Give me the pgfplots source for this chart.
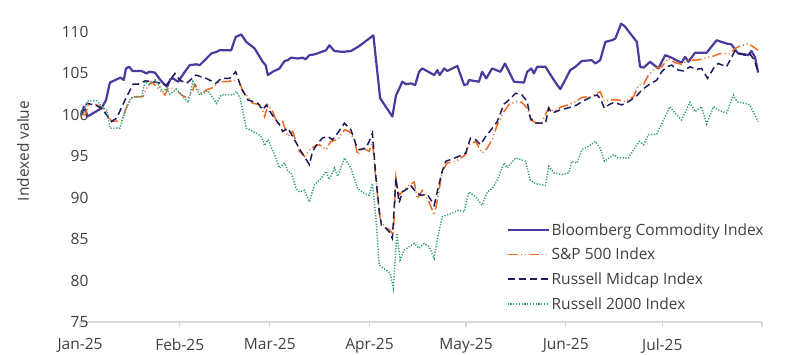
\documentclass[border=0pt]{standalone}
\usepackage{pgfplots}
\pgfplotsset{compat=1.18}
\usepackage{fontspec}
\setmainfont{Open Sans}
\definecolor{bcom}{RGB}{75,58,157}
\definecolor{spx}{RGB}{242,106,33}
\definecolor{mid}{RGB}{30,27,94}
\definecolor{rut}{RGB}{47,160,119}
\definecolor{axgray}{RGB}{217,217,217}
\definecolor{txt}{RGB}{64,64,64}
\begin{document}
\begin{tikzpicture}
\begin{axis}[
  name=ax,
  scale only axis,
  width=682pt, height=306.7pt,
  xmin=0, xmax=212, ymin=75, ymax=112,
  axis x line*=bottom, axis y line*=left,
  y axis line style={draw=none},
  x axis line style={draw=axgray, line width=1.3pt},
  xtick={0,31,59,90,120,151,181,212},
  xticklabels={Jan-25,Feb-25,Mar-25,Apr-25,May-25,Jun-25,Jul-25,{}},
  ytick={75,80,...,110},
  tick align=outside,
  major tick length=5pt,
  xtick style={draw=axgray, line width=1.1pt},
  ytick style={draw=none},
  /pgf/number format/assume math mode=true,
  tick label style={font=\fontsize{15.5}{18}\selectfont, text=txt},
  yticklabel style={xshift=17pt},
  xticklabel style={yshift=-8pt},
  ylabel={Indexed value},
  ylabel style={at={(axis description cs:-0.0836,0.558)}, anchor=center, font=\fontsize{15.5}{18}\selectfont, text=txt},
  clip=false,
  legend style={draw=none, fill=none, at={(axis description cs:0.625,0.33)}, anchor=north west,
    font=\fontsize{15.5}{18}\selectfont, cells={anchor=west, text height=12pt, text depth=4pt, text=txt}, row sep=7.2pt, inner sep=0pt},
  legend image code/.code={\draw[#1] (0pt,0pt) -- (41pt,0pt);},
]
\coordinate (bl) at (rel axis cs:0,0);
\coordinate (tr) at (rel axis cs:1,1);
\addplot[bcom, line width=2.2pt, line join=round] coordinates {
(0.5,100.0)(1.2,101.0)(2.3,99.8)(6.7,100.8)(8.1,101.8)(9.3,103.9)(12.6,104.5)(13.6,104.2)(14.3,105.6)(15.3,105.8)(16.3,105.3)(19.1,105.3)(20.7,105.0)(21.5,105.2)(23.3,105.1)(24.8,104.3)(26.4,103.6)(27.1,103.4)(28.1,104.3)(28.9,104.4)(30.5,104.0)(32.6,105.2)(34.1,106.0)(36.2,106.1)(37.2,106.0)(38.8,106.6)(40.8,107.4)(42.4,107.6)(43.4,107.8)(47.0,107.8)(48.4,109.4)(50.1,109.7)(51.7,108.8)(54.3,108.0)(56.8,106.4)(57.7,106.0)(58.4,104.8)(59.9,105.2)(62.0,105.6)(63.6,106.5)(64.6,106.6)(65.6,106.9)(67.7,106.8)(69.2,106.9)(70.1,106.7)(71.3,107.2)(72.9,107.3)(74.4,107.5)(76.5,107.8)(77.5,108.4)(79.1,107.7)(81.6,107.6)(84.2,107.7)(86.8,108.3)(91.2,109.6)(93.3,102.0)(97.1,99.8)(98.2,102.3)(100.2,104.0)(101.3,103.7)(102.8,103.8)(104.2,103.6)(105.4,105.2)(106.4,105.6)(110.1,104.8)(111.1,105.4)(111.8,104.8)(113.2,105.6)(114.2,105.3)(117.3,105.9)(119.4,103.6)(120.4,103.7)(120.9,104.2)(124.0,104.0)(125.0,105.2)(126.3,104.4)(128.1,105.6)(130.7,105.2)(132.1,106.2)(134.9,104.0)(138.0,103.9)(139.0,105.2)(140.3,105.6)(141.1,105.0)(142.1,105.8)(144.7,105.8)(147.3,104.2)(149.3,103.1)(152.4,105.4)(154.0,105.8)(156.0,106.5)(159.1,106.6)(160.2,106.2)(161.7,106.6)(163.3,108.8)(165.3,109.0)(166.4,109.2)(168.2,111.0)(169.3,110.7)(173.1,108.8)(174.1,105.8)(175.2,105.7)(177.2,106.4)(179.8,105.6)(181.9,107.2)(183.9,106.9)(185.8,106.5)(187.0,106.3)(188.1,107.0)(189.1,106.4)(191.2,107.5)(194.8,107.5)(197.9,109.0)(201.0,108.6)(202.5,108.5)(203.6,107.9)(204.6,107.4)(206.7,107.3)(207.7,107.2)(208.7,107.7)(209.8,107.0)(210.8,105.1)
};
\addlegendentry{Bloomberg Commodity Index}
\addplot[spx, line width=1.5pt, dash pattern=on 10pt off 3pt on 1pt off 3pt on 1pt off 3pt] coordinates {
(0.5,100.1)(1.6,100.0)(2.6,101.2)(4.7,101.3)(6.2,101.0)(7.8,100.6)(9.8,99.2)(12.9,99.3)(14.5,101.0)(16.0,102.0)(17.6,102.2)(19.6,102.2)(20.7,103.2)(22.2,104.0)(24.3,103.2)(26.4,102.4)(27.4,103.2)(29.5,103.2)(31.5,102.4)(33.6,102.0)(35.1,103.0)(35.7,103.7)(37.7,102.6)(39.3,103.0)(41.3,103.3)(43.4,104.0)(46.0,104.0)(47.5,104.2)(49.6,104.0)(50.6,102.8)(52.2,102.2)(53.7,101.4)(56.3,101.2)(57.4,99.8)(58.4,101.2)(59.9,100.4)(61.5,98.8)(63.0,99.2)(64.6,97.4)(66.1,98.0)(68.2,95.6)(69.8,95.0)(71.8,96.0)(74.4,96.4)(76.5,95.8)(78.0,96.8)(80.1,97.0)(82.2,98.2)(83.7,98.0)(85.3,97.0)(86.3,95.2)(87.8,96.0)(89.9,95.6)(90.9,96.8)(92.0,92.1)(93.3,87.5)(94.6,86.5)(96.4,86.1)(97.4,85.5)(98.2,92.5)(99.2,90.3)(101.8,91.4)(103.9,91.9)(104.9,89.9)(106.4,90.9)(108.5,89.5)(110.1,87.9)(111.1,89.7)(112.6,93.2)(114.2,94.2)(116.8,94.4)(119.9,95.2)(120.9,96.4)(123.0,96.8)(125.0,95.4)(126.6,96.0)(128.1,97.0)(129.7,98.8)(131.8,100.4)(133.3,101.2)(135.4,101.6)(137.4,101.5)(139.0,100.8)(140.0,99.4)(142.1,99.0)(143.6,99.1)(145.7,100.9)(147.3,100.4)(149.8,101.0)(151.9,101.2)(154.0,101.6)(156.0,102.1)(158.6,102.2)(161.7,102.8)(163.0,101.6)(164.8,101.8)(167.4,101.8)(169.5,101.6)(172.1,102.2)(173.6,103.6)(175.2,103.7)(176.7,104.8)(178.8,105.6)(180.8,105.8)(182.9,106.8)(185.0,106.3)(187.0,106.1)(189.1,106.6)(191.7,106.6)(193.8,106.8)(196.9,107.1)(198.9,107.4)(202.0,107.4)(203.6,108.0)(205.1,108.3)(207.7,108.6)(209.3,108.2)(210.8,107.8)
};
\addlegendentry{S\&P 500 Index}
\addplot[mid, line width=1.5pt, dash pattern=on 7pt off 4pt] coordinates {
(0.5,100.0)(2.1,101.4)(5.2,101.1)(6.7,100.8)(9.8,99.2)(11.4,99.6)(14.0,101.8)(16.5,103.7)(18.1,103.7)(20.2,104.1)(22.7,104.0)(25.3,103.8)(26.9,103.6)(29.5,105.0)(31.0,104.2)(33.1,103.8)(36.0,104.8)(39.3,104.4)(42.2,103.8)(43.9,104.4)(46.5,104.4)(48.4,105.2)(50.1,103.3)(52.2,101.8)(55.3,101.4)(56.8,100.6)(57.9,101.2)(59.4,100.2)(62.0,98.8)(63.0,98.0)(64.6,98.4)(66.1,97.4)(68.7,95.6)(71.3,94.0)(72.3,95.6)(73.9,96.6)(75.4,97.2)(77.0,97.4)(78.5,97.0)(80.1,97.8)(82.2,99.0)(84.2,98.2)(85.8,96.4)(86.8,95.8)(88.9,96.0)(89.9,96.8)(90.9,97.8)(92.0,92.4)(93.0,88.4)(93.7,86.7)(95.1,86.3)(96.1,85.9)(97.1,85.1)(98.2,92.4)(99.2,89.4)(100.2,90.7)(101.8,91.1)(102.8,91.5)(104.4,90.7)(105.9,90.3)(108.0,90.4)(110.1,89.1)(111.4,91.3)(112.6,93.2)(113.7,94.4)(115.2,94.6)(117.8,95.0)(119.9,95.4)(121.4,97.2)(123.0,97.0)(124.5,96.4)(126.1,97.4)(127.6,98.1)(129.7,99.2)(131.8,101.3)(133.3,101.8)(135.4,102.6)(137.4,102.4)(139.0,101.6)(140.0,99.6)(141.6,99.0)(144.7,99.0)(145.7,100.8)(146.7,100.2)(149.3,100.6)(151.4,100.8)(154.5,101.2)(156.0,101.6)(159.1,102.2)(160.7,102.4)(161.7,102.0)(163.0,100.8)(164.3,101.2)(165.9,101.5)(168.4,101.2)(170.5,101.6)(173.1,102.3)(174.6,103.0)(176.7,103.6)(179.3,104.2)(180.8,105.2)(182.4,105.8)(183.9,106.0)(186.0,105.4)(187.6,105.3)(189.6,105.8)(191.7,105.5)(193.2,105.6)(195.1,104.4)(196.9,105.6)(198.4,106.2)(201.0,105.8)(202.3,106.8)(203.6,107.7)(205.1,107.4)(206.7,107.2)(208.2,107.4)(209.6,106.6)(210.8,105.2)
};
\addlegendentry{Russell Midcap Index}
\addplot[rut, line width=1.5pt, dash pattern=on 1.2pt off 1.6pt] coordinates {
(0.5,100.1)(2.6,101.7)(5.2,101.7)(6.7,101.0)(8.3,100.6)(9.3,98.4)(12.4,98.4)(14.0,100.4)(15.5,101.8)(16.5,102.2)(19.1,102.1)(20.2,104.0)(21.7,103.6)(23.3,104.2)(25.8,102.8)(26.9,103.2)(27.9,102.5)(30.0,103.1)(33.6,101.5)(35.1,104.0)(37.2,102.4)(39.8,102.9)(42.4,101.4)(43.9,102.4)(47.5,102.4)(48.6,102.8)(49.8,102.0)(51.7,98.4)(52.7,98.2)(54.8,97.8)(56.3,97.4)(57.4,96.3)(58.4,97.0)(60.5,95.2)(62.0,93.6)(63.6,94.2)(64.6,93.2)(65.6,93.0)(67.2,91.1)(68.2,90.7)(69.8,90.9)(71.3,89.5)(72.9,91.6)(74.9,92.3)(76.5,93.2)(77.5,92.2)(79.1,93.6)(80.1,92.6)(82.2,94.8)(84.2,93.6)(86.3,91.1)(88.4,90.5)(89.9,90.3)(90.9,91.7)(92.0,87.5)(93.0,81.9)(95.1,81.3)(96.4,80.9)(97.4,79.1)(98.5,85.7)(99.5,82.5)(100.8,83.7)(103.9,84.5)(105.4,83.9)(107.0,84.5)(108.5,84.1)(110.1,82.7)(111.1,85.1)(112.6,87.7)(115.2,88.1)(117.8,88.5)(119.4,88.3)(120.9,90.7)(123.0,90.1)(125.0,89.1)(126.6,90.7)(128.1,91.1)(129.7,92.1)(131.8,94.2)(132.8,93.6)(135.4,94.8)(138.5,94.4)(140.0,92.1)(141.6,91.7)(144.7,91.5)(145.7,93.8)(147.3,93.0)(149.8,92.8)(151.9,93.0)(152.9,94.4)(154.5,94.2)(156.0,95.8)(158.1,96.2)(160.2,96.8)(161.7,96.0)(163.0,94.4)(165.9,95.2)(167.4,94.8)(170.5,94.8)(172.1,95.8)(173.9,96.8)(175.2,96.4)(176.7,97.6)(179.3,97.7)(181.4,99.4)(183.4,101.0)(185.0,100.2)(187.0,99.4)(189.6,101.5)(191.2,100.4)(193.2,101.0)(194.8,98.9)(196.9,101.0)(198.9,100.5)(201.0,100.2)(203.1,102.4)(204.2,101.6)(206.7,101.4)(208.2,101.2)(210.8,99.2)
};
\addlegendentry{Russell 2000 Index}
\end{axis}
\pgfresetboundingbox
\path ([shift={(-80pt,-32pt)}]bl) rectangle ([shift={(38pt,15.4pt)}]tr);
\end{tikzpicture}
\end{document}
